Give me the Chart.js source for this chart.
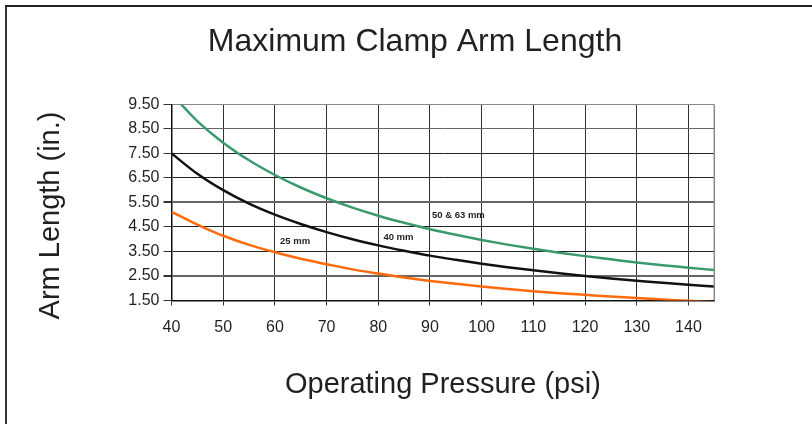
<!DOCTYPE html>
<html>
<head>
<meta charset="utf-8">
<script src="https://cdn.jsdelivr.net/npm/chart.js@4.4.1/dist/chart.umd.min.js"></script>
<style>
    body { margin: 0; background: #fff; overflow: hidden; }
    #wrap { position: relative; width: 812px; height: 424px; }
    #frame {
        position: absolute; left: 5px; top: 5px; right: -10px; bottom: -10px;
        border-top: 2px solid #222; border-left: 2px solid #333;
    }
    canvas { position: absolute; left: 0; top: 0; }
</style>
</head>
<body>
<div id="wrap">
    <div id="frame"></div>
    <canvas id="clampChart" width="812" height="424"></canvas>
</div>
<script>
// operating pressure (psi)
const pressure = [40, 45, 50, 55, 60, 65, 70, 75, 80, 85, 90, 95, 100, 105, 110, 115, 120, 125, 130, 135, 140, 145];

// max arm length (in.)
const arm50_63 = [9.93, 8.82, 7.94, 7.22, 6.62, 6.11, 5.67, 5.29, 4.96, 4.67, 4.41, 4.18, 3.97, 3.78, 3.61, 3.45, 3.31, 3.18, 3.05, 2.94, 2.84, 2.74];
const arm40 = [7.5, 6.67, 6.0, 5.45, 5.0, 4.62, 4.29, 4.0, 3.75, 3.53, 3.33, 3.16, 3.0, 2.86, 2.73, 2.61, 2.5, 2.4, 2.31, 2.22, 2.14, 2.07];
const arm25 = [5.12, 4.6, 4.14, 3.77, 3.47, 3.2, 2.98, 2.77, 2.6, 2.44, 2.3, 2.18, 2.07, 1.97, 1.88, 1.8, 1.73, 1.66, 1.6, 1.54, 1.49, 1.43];

const seriesNames = ['50 & 63 mm', '40 mm', '25 mm'];

const font = '"Liberation Sans", Arial, Helvetica, sans-serif';
const textColor = '#231f20';

// where the small curve labels sit (data units)
const curveLabels = [
    { text: '50 & 63 mm', x: 95.5, y: 4.97 },
    { text: '40 mm', x: 83.9, y: 4.07 },
    { text: '25 mm', x: 63.9, y: 3.91 }
];

function toPoints(vals) {
    return vals.map((v, i) => ({ x: pressure[i], y: v }));
}

// right edge of plot, y axis title and inline curve labels
const extras = {
    id: 'extras',
    afterDatasetsDraw(chart) {
        const { ctx, chartArea, scales } = chart;
        ctx.save();
        ctx.strokeStyle = '#888';
        ctx.lineWidth = 1.5;
        ctx.beginPath();
        ctx.moveTo(chartArea.right, chartArea.top);
        ctx.lineTo(chartArea.right, chartArea.bottom);
        ctx.stroke();

        ctx.fillStyle = textColor;
        ctx.font = 'bold 9.5px ' + font;
        ctx.textAlign = 'center';
        ctx.textBaseline = 'middle';
        curveLabels.forEach(l => {
            ctx.fillText(l.text, scales.x.getPixelForValue(l.x), scales.y.getPixelForValue(l.y));
        });

        // y title sits a bit below the plot middle in the original
        ctx.font = '29px ' + font;
        ctx.translate(51, 215.5);
        ctx.rotate(-Math.PI / 2);
        ctx.fillText('Arm Length (in.)', 0, 0);
        ctx.restore();
    }
};

const ctx = document.getElementById('clampChart').getContext('2d');
new Chart(ctx, {
    type: 'line',
    data: {
        datasets: [
            { label: seriesNames[0], data: toPoints(arm50_63), borderColor: '#3a9a6c', borderWidth: 2.5 },
            { label: seriesNames[1], data: toPoints(arm40), borderColor: '#111', borderWidth: 2.5 },
            { label: seriesNames[2], data: toPoints(arm25), borderColor: '#ff6a0d', borderWidth: 2.5 }
        ]
    },
    options: {
        responsive: false,
        animation: false,
        devicePixelRatio: 1,
        elements: {
            point: { radius: 0 },
            line: { cubicInterpolationMode: 'monotone', fill: false }
        },
        layout: { padding: { left: 18, right: 0, top: 0, bottom: 0 } },
        plugins: {
            legend: { display: false },
            tooltip: { enabled: false },
            title: {
                display: true,
                text: 'Maximum Clamp Arm Length',
                color: textColor,
                font: { family: font, size: 32, weight: 'normal' },
                padding: { top: 23, bottom: 43 }
            }
        },
        scales: {
            x: {
                type: 'linear',
                min: 40,
                max: 145,
                afterFit: scale => { scale.height = 123.5; },
                ticks: {
                    stepSize: 10,
                    includeBounds: false,
                    color: textColor,
                    font: { family: font, size: 16 },
                    padding: 12,
                    maxRotation: 0
                },
                grid: { color: '#333', lineWidth: 1, tickLength: 5, tickColor: '#333' },
                border: { color: '#111', width: 1.5 },
                title: {
                    display: true,
                    text: 'Operating Pressure (psi)',
                    color: textColor,
                    font: { family: font, size: 29 },
                    padding: { top: 0, bottom: 22 }
                }
            },
            y: {
                min: 1.5,
                max: 9.5,
                afterFit: scale => { scale.width = 153.5; },
                ticks: {
                    stepSize: 1,
                    color: textColor,
                    font: { family: font, size: 16 },
                    padding: 4,
                    callback: v => v.toFixed(2)
                },
                grid: {
                    color: c => {
                        const v = c.tick ? c.tick.value : 0;
                        if (v === 9.5) return '#888';
                        if (v === 5.5 || v === 2.5 || v === 8.5) return '#666';
                        return '#222';
                    },
                    lineWidth: c => (c.tick && (c.tick.value === 5.5 || c.tick.value === 2.5)) ? 2 : 1,
                    tickLength: 8,
                    tickColor: '#333'
                },
                border: { color: '#111', width: 1.5 }
            },
            // empty box on the right, keeps the plot narrower than the page
            yRight: {
                position: 'right',
                afterFit: scale => { scale.width = 97.7; },
                ticks: { display: false },
                grid: { display: false, drawTicks: false },
                border: { display: false }
            }
        }
    },
    plugins: [extras]
});
</script>
</body>
</html>
